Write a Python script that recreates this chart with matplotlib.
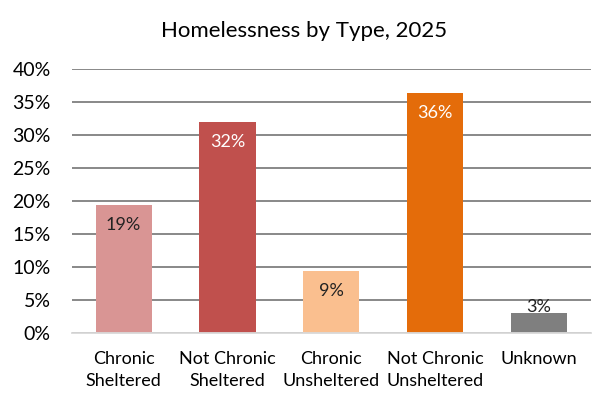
import matplotlib.pyplot as plt
import numpy as np

# Homelessness by Type, 2025
categories = ['Chronic\nSheltered', 'Not Chronic\nSheltered', 'Chronic\nUnsheltered',
              'Not Chronic\nUnsheltered', 'Unknown']
shares = [19.3, 32.0, 9.3, 36.3, 3.0]
value_labels = ['19%', '32%', '9%', '36%', '3%']
bar_colors = ['#D99594', '#C0504D', '#FABF8F', '#E46C0A', '#7F7F7F']
label_colors = ['#222222', 'white', '#222222', 'white', '#222222']
y_ticks = [0, 5, 10, 15, 20, 25, 30, 35, 40]


def main():
    plt.rcParams['font.family'] = ['Lato', 'DejaVu Sans']

    fig = plt.figure(figsize=(6.14, 4.04), dpi=100)
    ax = fig.add_axes([71.7 / 614, 1 - 332.7 / 404, 519.3 / 614, (332.7 - 69) / 404])

    x = np.arange(len(categories))
    ax.bar(x, shares, width=0.54, color=bar_colors, zorder=3)

    # value labels inside the top of each bar (last one sits on top of it)
    for i, (v, lab, c) in enumerate(zip(shares, value_labels, label_colors)):
        if v < 5:
            ax.text(i, v - 0.35, lab, ha='center', va='bottom', fontsize=13, color=c, zorder=4)
        else:
            ax.text(i, v - 3.0, lab, ha='center', va='center', fontsize=13, color=c, zorder=4)

    ax.set_xlim(-0.5, len(categories) - 0.5)
    ax.set_ylim(0, 40)
    ax.set_yticks(y_ticks)
    ax.set_yticklabels([f'{t}%' for t in y_ticks], fontsize=14)
    ax.set_xticks(x)
    ax.set_xticklabels(categories, fontsize=13, linespacing=1.45)
    ax.tick_params(length=0)
    ax.tick_params(axis='x', pad=13)
    ax.tick_params(axis='y', pad=15)

    ax.grid(axis='y', color='#7F7F7F', linewidth=1.3, zorder=0)
    for s in ['top', 'right', 'left']:
        ax.spines[s].set_visible(False)
    ax.spines['bottom'].set_color('#D9D9D9')
    ax.spines['bottom'].set_linewidth(1.3)
    ax.spines['bottom'].set_zorder(5)

    fig.text(304 / 614, 1 - 31 / 404, 'Homelessness by Type, 2025', ha='center', va='center',
             fontsize=16)

    fig.savefig('out.png', dpi=100)


if __name__ == '__main__':
    main()
